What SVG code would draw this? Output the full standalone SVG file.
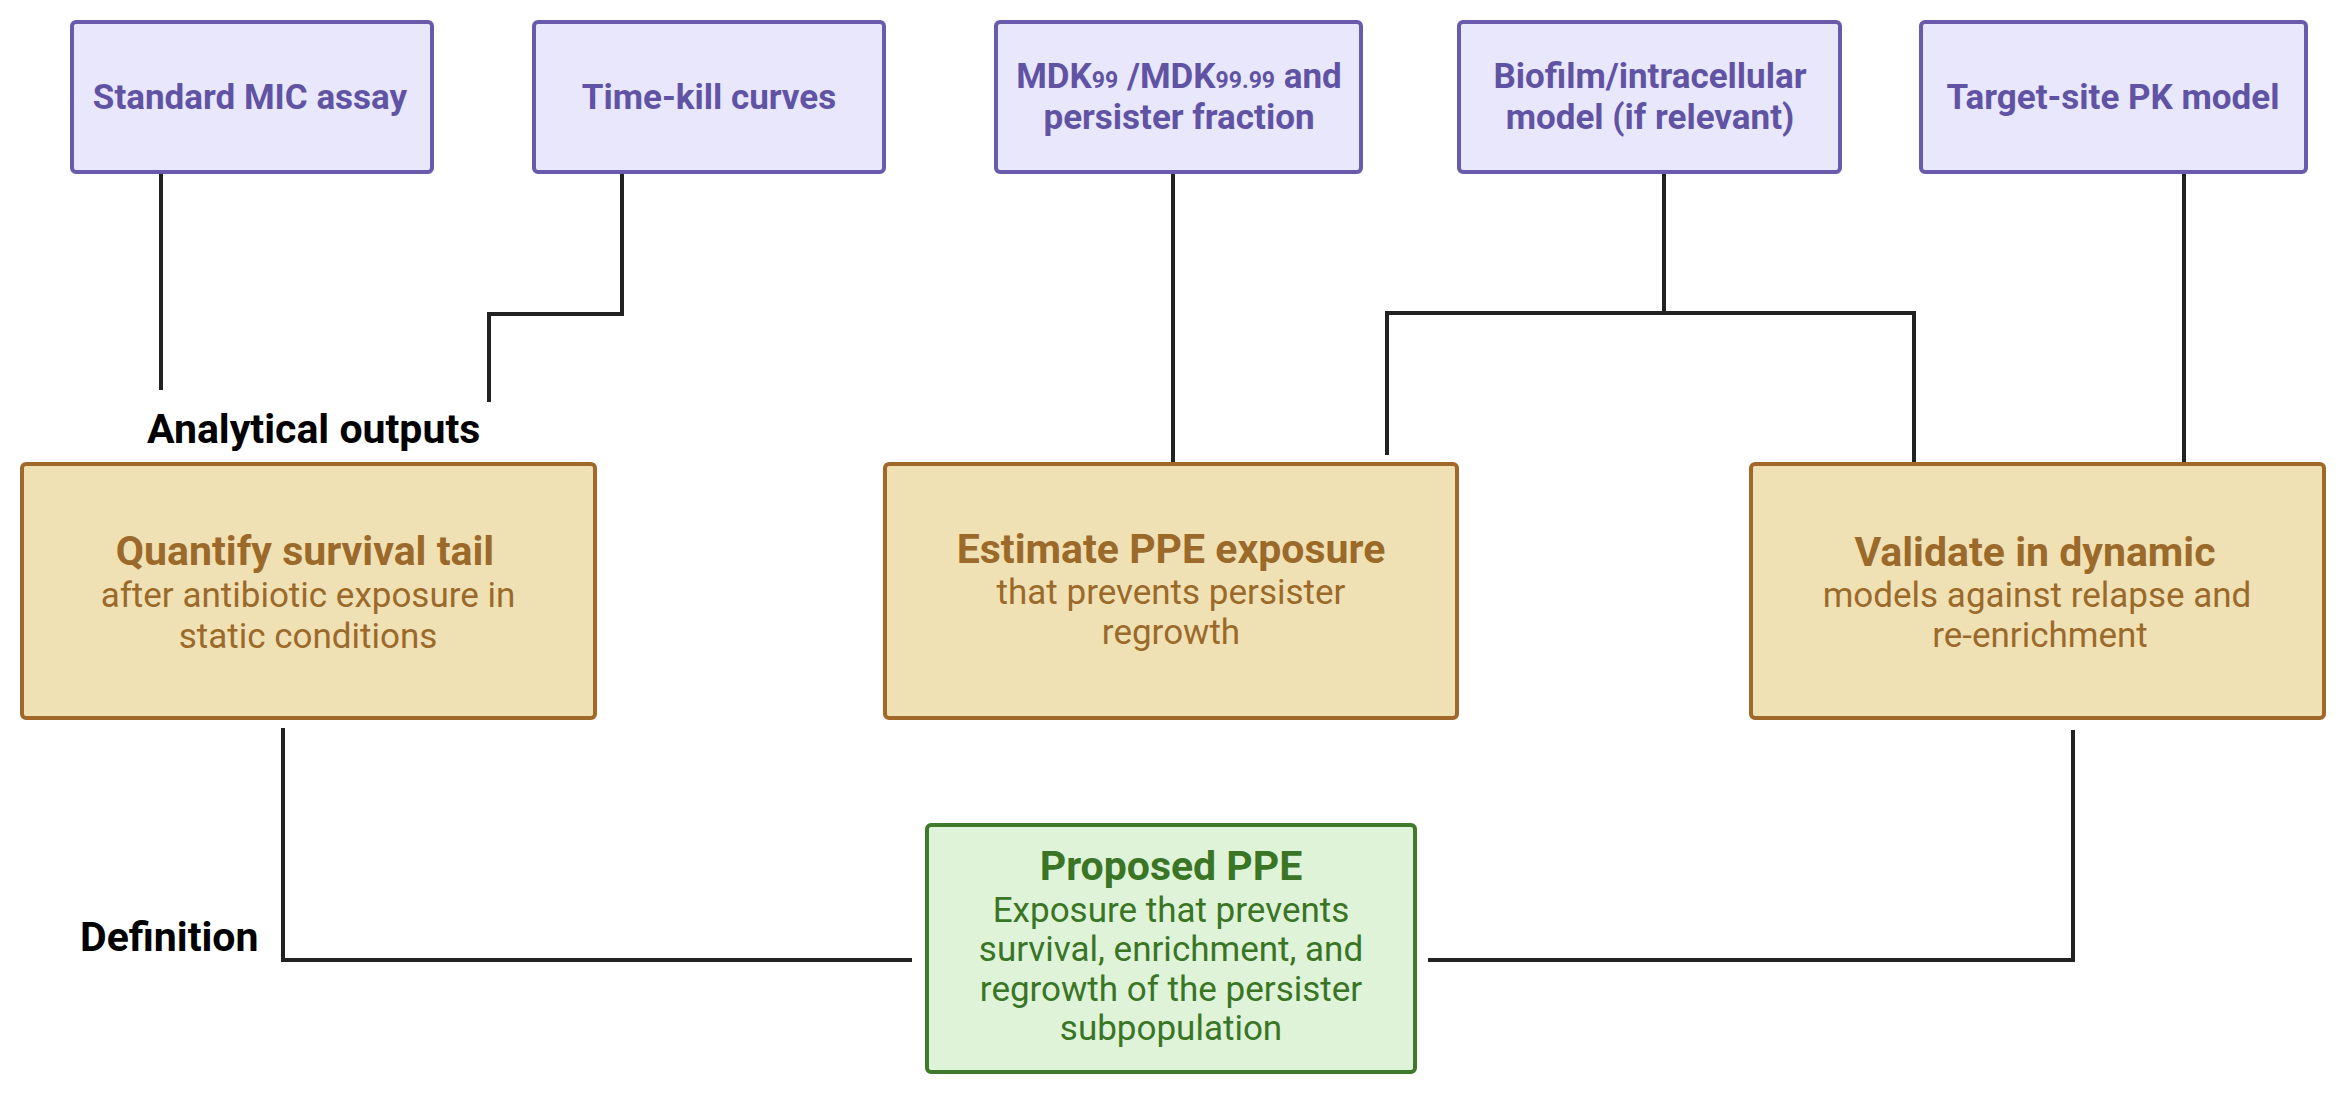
<svg xmlns="http://www.w3.org/2000/svg" width="2340" height="1094" viewBox="0 0 2340 1094">
<style>
.bg{fill:#ffffff}
.pbox{fill:#e9e7fb;stroke:#6a5aab;stroke-width:4}
.ptxt{fill:#6153a4;font-family:Roboto,"Liberation Sans",sans-serif;font-weight:bold;font-size:35px;text-anchor:middle}
.tbox{fill:#f0e1b5;stroke:#a0692a;stroke-width:4}
.ttl{fill:#9b6a2b;font-family:Roboto,"Liberation Sans",sans-serif;font-weight:bold;font-size:41px;text-anchor:middle}
.tsub{fill:#9b6a2b;font-family:Roboto,"Liberation Sans",sans-serif;font-size:35px;text-anchor:middle}
.gbox{fill:#dff3d9;stroke:#3f7a2c;stroke-width:4}
.gttl{fill:#3a7526;font-family:Roboto,"Liberation Sans",sans-serif;font-weight:bold;font-size:41px;text-anchor:middle}
.gsub{fill:#3a7526;font-family:Roboto,"Liberation Sans",sans-serif;font-size:35px;text-anchor:middle}
.lbl{fill:#000000;font-family:Roboto,"Liberation Sans",sans-serif;font-weight:bold;font-size:41px}
.con{fill:none;stroke:#222222;stroke-width:4;stroke-linejoin:miter}
</style>
<rect class="bg" x="0" y="0" width="2340" height="1094"/>
<g id="connectors">
<path class="con" d="M161 172 V390"/>
<path class="con" d="M622 172 V314 H489 V402"/>
<path class="con" d="M1173 172 V462"/>
<path class="con" d="M1664 172 V313"/>
<path class="con" d="M1387 455 V313 H1914 V464"/>
<path class="con" d="M2184 172 V462"/>
<path class="con" d="M283 728 V960 H912"/>
<path class="con" d="M2073 730 V960 H1428"/>
</g>
<g id="n-mic">
<rect class="pbox" x="72" y="22" width="360" height="150" rx="4"/>
<text class="ptxt" x="250" y="109">Standard MIC assay</text>
</g>
<g id="n-timekill">
<rect class="pbox" x="534" y="22" width="350" height="150" rx="4"/>
<text class="ptxt" x="709" y="109">Time-kill curves</text>
</g>
<g id="n-mdk">
<rect class="pbox" x="996" y="22" width="365" height="150" rx="4"/>
<text class="ptxt" x="1179" y="88">MDK<tspan font-size="23">99</tspan> /MDK<tspan font-size="23">99.99</tspan> and</text>
<text class="ptxt" x="1179" y="129">persister fraction</text>
</g>
<g id="n-biofilm">
<rect class="pbox" x="1459" y="22" width="381" height="150" rx="4"/>
<text class="ptxt" x="1650" y="88">Biofilm/intracellular</text>
<text class="ptxt" x="1650" y="129">model (if relevant)</text>
</g>
<g id="n-target">
<rect class="pbox" x="1921" y="22" width="385" height="150" rx="4"/>
<text class="ptxt" x="2113" y="109">Target-site PK model</text>
</g>
<text class="lbl" x="147" y="443">Analytical outputs</text>
<text class="lbl" x="80" y="951">Definition</text>
<g id="n-quantify">
<rect class="tbox" x="22" y="464" width="573" height="254" rx="4"/>
<text class="ttl" x="305" y="565">Quantify survival tail</text>
<text class="tsub" x="308" y="607">after antibiotic exposure in</text>
<text class="tsub" x="308" y="648">static conditions</text>
</g>
<g id="n-estimate">
<rect class="tbox" x="885" y="464" width="572" height="254" rx="4"/>
<text class="ttl" x="1171" y="563">Estimate PPE exposure</text>
<text class="tsub" x="1171" y="604">that prevents persister</text>
<text class="tsub" x="1171" y="644">regrowth</text>
</g>
<g id="n-validate">
<rect class="tbox" x="1751" y="464" width="573" height="254" rx="4"/>
<text class="ttl" x="2035" y="566">Validate in dynamic</text>
<text class="tsub" x="2037" y="607">models against relapse and</text>
<text class="tsub" x="2040" y="647">re-enrichment</text>
</g>
<g id="n-ppe">
<rect class="gbox" x="927" y="825" width="488" height="247" rx="4"/>
<text class="gttl" x="1171" y="880">Proposed PPE</text>
<text class="gsub" x="1171" y="922">Exposure that prevents</text>
<text class="gsub" x="1171" y="961">survival, enrichment, and</text>
<text class="gsub" x="1171" y="1001">regrowth of the persister</text>
<text class="gsub" x="1171" y="1040">subpopulation</text>
</g>
</svg>
